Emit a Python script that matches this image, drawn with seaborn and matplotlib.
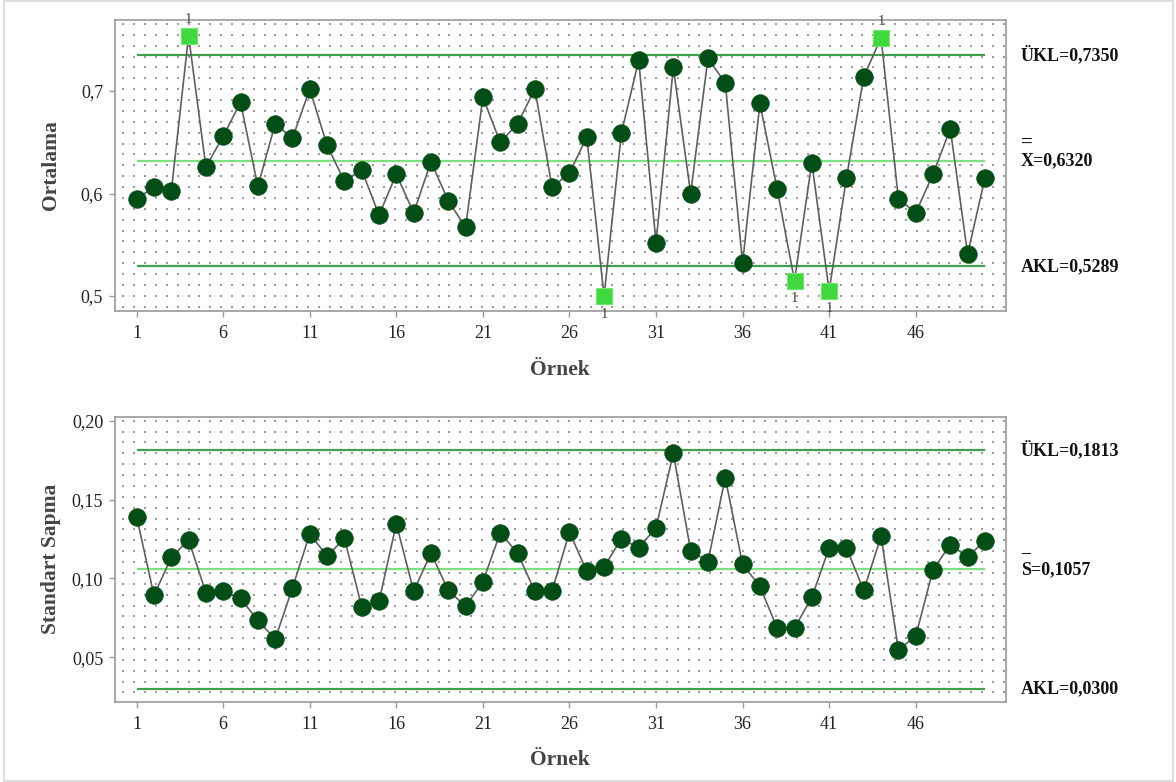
import numpy as np
import pandas as pd
import seaborn as sns
import matplotlib.pyplot as plt
import matplotlib.patches as patches
import matplotlib.transforms as mtransforms

# ----------------------- Data ------------------------------- #
samples = list(range(1, 51))
means = [0.595, 0.606, 0.602, 0.754, 0.626, 0.656, 0.689, 0.607, 0.668, 0.654,
         0.702, 0.647, 0.612, 0.623, 0.579, 0.619, 0.581, 0.631, 0.593, 0.567,
         0.694, 0.650, 0.668, 0.702, 0.606, 0.620, 0.655, 0.500, 0.659, 0.730,
         0.552, 0.723, 0.600, 0.732, 0.708, 0.532, 0.688, 0.604, 0.515, 0.630,
         0.505, 0.615, 0.714, 0.752, 0.595, 0.581, 0.619, 0.663, 0.541, 0.615]
stdevs = [0.1390, 0.0892, 0.1133, 0.1244, 0.0909, 0.0918, 0.0873, 0.0733, 0.0615, 0.0939,
          0.1284, 0.1140, 0.1254, 0.0820, 0.0854, 0.1347, 0.0918, 0.1161, 0.0924, 0.0822,
          0.0979, 0.1288, 0.1161, 0.0918, 0.0922, 0.1294, 0.1045, 0.1072, 0.1252, 0.1193,
          0.1322, 0.1793, 0.1176, 0.1106, 0.1639, 0.1089, 0.0949, 0.0685, 0.0685, 0.0880,
          0.1193, 0.1193, 0.0924, 0.1267, 0.0548, 0.0632, 0.1055, 0.1214, 0.1136, 0.1239]

xbar_limits = [0.7350, 0.6320, 0.5289]   # ÜKL, merkez, AKL
s_limits = [0.1813, 0.1057, 0.0300]
xbar_limit_labels = ["ÜKL=0,7350", "X=0,6320", "AKL=0,5289"]
s_limit_labels = ["ÜKL=0,1813", "S=0,1057", "AKL=0,0300"]

xticks = [1, 6, 11, 16, 21, 26, 31, 36, 41, 46]
xbar_yticks = [0.5, 0.6, 0.7]
xbar_yticklabels = ["0,5", "0,6", "0,7"]
s_yticks = [0.05, 0.10, 0.15, 0.20]
s_yticklabels = ["0,05", "0,10", "0,15", "0,20"]

# ----------------------- Style ------------------------------ #
sns.set_style("white")
plt.rcParams['font.family'] = ['Liberation Serif', 'DejaVu Serif']

dark_green = "#034d16"
bright_green = "#3fd83f"
limit_green = "#3f9f4a"
center_green = "#7fe07f"
spine_gray = "#9a9a9a"

fig = plt.figure(figsize=(11.76, 7.82), dpi=100)
fig.patches.append(patches.Rectangle((0.0034, 0.0017), 0.9940, 0.9966, transform=fig.transFigure,
                                     fill=False, edgecolor="#dddddd", linewidth=1.5))

ax_top = fig.add_axes([0.0978, 0.6027, 0.7574, 0.3717])
ax_bot = fig.add_axes([0.0978, 0.1027, 0.7574, 0.3644])


def dot_grid(ax):
    # background dot grid, ~10.9 px spacing
    bbox = ax.get_window_extent()
    w, h = bbox.width, bbox.height
    xs = np.arange(8.3, w - 1, 10.87) / w
    ys = np.arange(4.0, h - 1, 10.87) / h
    gx, gy = np.meshgrid(xs, ys)
    ax.scatter(gx.ravel(), 1 - gy.ravel(), s=4.0, marker="s", color="#9c9c9c",
               linewidths=0, transform=ax.transAxes, zorder=0)


def draw_panel(ax, values, limits, limit_labels, ylim, yticks, yticklabels, ylabel, bar, bar_off, bar_size):
    df = pd.DataFrame({"Örnek": samples, "val": values})
    ucl, cl, lcl = limits
    df["ooc"] = (df["val"] > ucl) | (df["val"] < lcl)

    dot_grid(ax)
    ax.hlines([ucl, lcl], 1, 50, colors=limit_green, linewidth=1.6, zorder=1)
    ax.hlines(cl, 1, 50, colors=center_green, linewidth=1.6, zorder=1)

    sns.lineplot(data=df, x="Örnek", y="val", ax=ax, color="#5f5f5f", linewidth=1.2, zorder=2)
    sns.scatterplot(data=df[~df["ooc"]], x="Örnek", y="val", ax=ax, marker="o", s=160,
                    color=dark_green, edgecolor=dark_green, linewidth=0.5, zorder=3)
    sns.scatterplot(data=df[df["ooc"]], x="Örnek", y="val", ax=ax, marker="s", s=120,
                    color=bright_green, edgecolor="#70e870", linewidth=0.8, zorder=4)

    for _, row in df[df["ooc"]].iterrows():
        off = 12 if row["val"] > ucl else -13
        ax.annotate("1", (row["Örnek"], row["val"]), xytext=(0, off), textcoords="offset points",
                    ha="center", va="center", fontsize=10.5, color="#444444", zorder=5,
                    annotation_clip=False)

    ax.set_xlim(-0.25, 51.2)
    ax.set_ylim(*ylim)
    ax.set_xticks(xticks)
    ax.set_xticklabels([str(t) for t in xticks])
    ax.set_yticks(yticks)
    ax.set_yticklabels(yticklabels)
    ax.tick_params(axis="both", which="major", labelsize=13, length=4.5, width=1,
                   color=spine_gray, labelcolor="#222222", direction="out", pad=4)
    ax.tick_params(axis="x", pad=6)
    ax.tick_params(bottom=True, left=True)
    for spine in ax.spines.values():
        spine.set_color(spine_gray)
        spine.set_linewidth(1.2)

    ax.set_xlabel("Örnek", fontsize=15.5, fontweight="bold", color="#454545")
    ax.set_ylabel(ylabel, fontsize=15.5, fontweight="bold", color="#454545")
    ax.xaxis.set_label_coords(0.5, -0.168)
    ax.yaxis.set_label_coords(-0.061, 0.5)

    trans = mtransforms.blended_transform_factory(ax.transAxes, ax.transData)
    for val, lab in zip(limits, limit_labels):
        ax.text(1.0172, val, lab, transform=trans, ha="left", va="center",
                fontsize=13, fontweight="bold", color="#111111")
    ax.annotate(bar, (1.0172, cl), xycoords=trans, xytext=(0.3, bar_off), textcoords="offset points",
                ha="left", va="center", fontsize=bar_size, fontweight="bold", color="#111111")


draw_panel(ax_top, means, xbar_limits, xbar_limit_labels, (0.4857, 0.7693),
           xbar_yticks, xbar_yticklabels, "Ortalama", "=", 12.5, 15)
draw_panel(ax_bot, stdevs, s_limits, s_limit_labels, (0.0218, 0.2025),
           s_yticks, s_yticklabels, "Standart Sapma", "_", 15.5, 13)

fig.savefig("out.png", dpi=100)
plt.close(fig)
